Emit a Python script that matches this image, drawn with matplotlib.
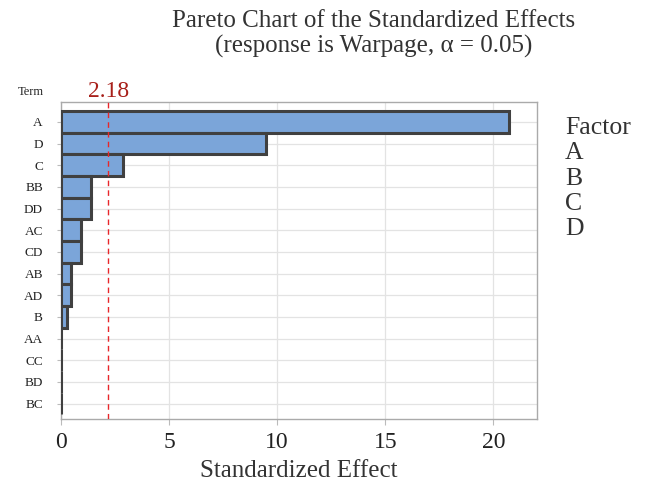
import numpy as np
import matplotlib
matplotlib.use("Agg")
import matplotlib.pyplot as plt

# ── data ──────────────────────────────────────────────────────────────────────
terms = ["A", "D", "C", "BB", "DD", "AC", "CD", "AB", "AD", "B", "AA", "CC", "BD", "BC"]
effects = [20.7, 9.5, 2.87, 1.37, 1.37, 0.94, 0.94, 0.45, 0.47, 0.26, 0.02, 0.02, 0.02, 0.02]
critical = 2.18
factors = ["A", "B", "C", "D"]

plt.rcParams["font.family"] = ["Liberation Serif", "DejaVu Serif"]

fig = plt.figure(figsize=(6.47, 4.84), dpi=100, facecolor="white")
ax = fig.add_axes([0.0943, 0.134, 0.7352, 0.655])

y = np.arange(len(terms))
ax.barh(y, effects, height=1.0, color="#7BA5D9", edgecolor="#404040",
        linewidth=2.2, zorder=3)
ax.axvline(critical, color="#E8262A", ls=(0, (4, 3)), lw=1.0, zorder=4)

ax.set_yticks(y)
ax.set_yticklabels(terms, fontsize=9.5, color="#222222")
ax.set_ylim(len(terms) - 1 + 0.72, -0.91)
ax.set_xlim(0, 22)
ax.set_xticks([0, 5, 10, 15, 20])
ax.tick_params(axis="x", labelsize=17, colors="#bbbbbb", labelcolor="#222222",
               length=4, pad=5)
ax.tick_params(axis="y", colors="#bbbbbb", labelcolor="#222222", length=3, pad=10)
ax.grid(True, color="#e3e3e3", lw=0.9, zorder=0)
for sp in ax.spines.values():
    sp.set_color("#aaaaaa")
    sp.set_linewidth(1.0)

ax.set_xlabel("Standardized Effect", fontsize=18, color="#333333", labelpad=5)

# ── annotations ───────────────────────────────────────────────────────────────
ax.text(critical, 1.0, f"{critical:.2f}", transform=ax.get_xaxis_transform(),
        ha="center", va="bottom", fontsize=17, color="#A8201A")
fig.text(0.048, 0.81, "Term", ha="center", va="center", fontsize=9,
         color="#222222")

fig.text(0.578, 0.957, "Pareto Chart of the Standardized Effects",
         ha="center", va="center", fontsize=18, color="#333333")
fig.text(0.578, 0.904, "(response is Warpage, \u03b1 = 0.05)",
         ha="center", va="center", fontsize=18, color="#333333")

fig.text(0.873, 0.736, "Factor", ha="left", va="center", fontsize=18.5,
         color="#333333")
for i, f in enumerate(factors):
    fig.text(0.873, 0.683 - i * 0.052, f, ha="left", va="center", fontsize=18.5,
             color="#333333")

fig.savefig("out.png", dpi=100, facecolor=fig.get_facecolor())
